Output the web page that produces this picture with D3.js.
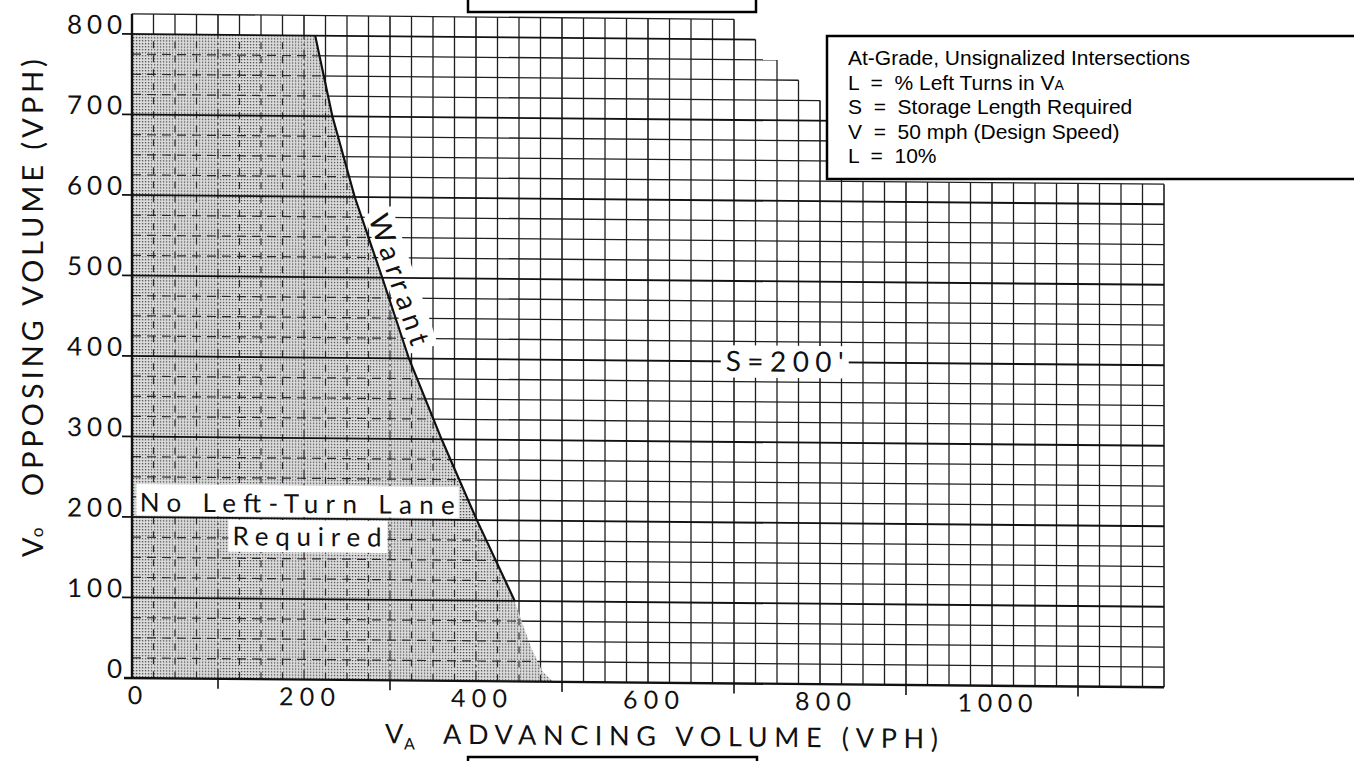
<!DOCTYPE html>
<html><head><meta charset="utf-8">
<script src="https://cdn.jsdelivr.net/npm/d3@7"></script>
<style>html,body{margin:0;padding:0;background:#fff;}svg{display:block;}</style>
</head><body>
<svg id="c" width="1354" height="761"></svg>
<script>
// ---------------- data ----------------
const xTickLabels = [0, 200, 400, 600, 800, 1000];
const xTickMarks  = [100, 300, 500, 700, 900, 1100];
const yTickLabels = [0, 100, 200, 300, 400, 500, 600, 700, 800];
const warrantVo = [800, 700, 600, 500, 400, 300, 200, 100];
const warrantVa = [213, 233, 259, 291, 322, 360, 401, 445];
const shadeTailVa = [453, 465, 478, 490];
const shadeTailVo = [75, 40, 12, 0];
const gridStepVa  = [0, 700, 725, 750, 775, 800, 825, 1200];
const gridStepTop = [825, 800, 775, 750, 725, 700, 625];
const gridStep = 25;
const legendLines = [
  ["At-Grade, Unsignalized Intersections", ""],
  ["L \u00A0= \u00A0% Left Turns in V", "A"],
  ["S \u00A0= \u00A0Storage Length Required", ""],
  ["V \u00A0= \u00A050 mph (Design Speed)", ""],
  ["L \u00A0= \u00A010%", ""]
];
const xTitleMain = "ADVANCING VOLUME (VPH)";
const yTitleMain = "OPPOSING VOLUME (VPH)";
const regionLabel1 = "No Left-Turn Lane";
const regionLabel2 = "Required";
const warrantLabel = "Warrant";
const storageLabel = "S=200'";

// ---------------- setup ----------------
const svg = d3.select("#c");
const x = d3.scaleLinear().domain([0, 1200]).range([132, 1164]);
const y = d3.scaleLinear().domain([0, 800]).range([678, 34]);
const skew = 0.009;
const FONT = "Lato, 'DejaVu Sans', sans-serif";

const defs = svg.append("defs");
const pat = defs.append("pattern").attr("id", "stip")
  .attr("patternUnits", "userSpaceOnUse").attr("width", 3).attr("height", 3);
pat.append("rect").attr("width", 3).attr("height", 3).attr("fill", "#dedede");
pat.append("rect").attr("x", 1).attr("y", 1).attr("width", 1.3).attr("height", 1.3).attr("fill", "#333");

const g = svg.append("g")
  .attr("transform", `matrix(1,${skew},0,1,0,${-skew * x(0)})`);

// shaded region polygon (data space)
const shadePts = [[0, 0], [0, 800]]
  .concat(warrantVa.map((v, i) => [v, warrantVo[i]]))
  .concat(shadeTailVa.map((v, i) => [v, shadeTailVo[i]]));
const shadePath = d3.line().x(d => x(d[0])).y(d => y(d[1]))(shadePts) + "Z";
defs.append("clipPath").attr("id", "shadeClip").append("path").attr("d", shadePath);

// grid helpers
function cellTop(v) {
  for (let i = 0; i < gridStepTop.length; i++) {
    if (v >= gridStepVa[i] && v < gridStepVa[i + 1]) return gridStepTop[i];
  }
  return 0;
}
function hEnd(L) {
  let e = 0;
  for (let i = 0; i < gridStepTop.length; i++) if (gridStepTop[i] >= L) e = gridStepVa[i + 1];
  return e;
}
const levels = d3.range(0, 826, gridStep);
const verts = d3.range(0, 1201, gridStep);
function vTop(v) {
  const a = v > 0 ? cellTop(v - gridStep) : 0;
  const b = v < 1200 ? cellTop(v) : 0;
  return Math.max(a, b);
}
const minorLevels = levels.filter(L => L > 0 && L % 100 !== 0);
const majorLevels = levels.filter(L => L > 0 && L % 100 === 0);
const innerVerts = verts.filter(v => v > 0);

// 1. solid grid
const gridG = g.append("g");
gridG.selectAll(".hm").data(minorLevels).join("line")
  .attr("x1", x(0)).attr("x2", L => x(hEnd(L)))
  .attr("y1", L => y(L)).attr("y2", L => y(L))
  .attr("stroke", "#1e1e1e").attr("stroke-width", 1.3);
gridG.selectAll(".vv").data(innerVerts).join("line")
  .attr("x1", v => x(v)).attr("x2", v => x(v))
  .attr("y1", y(0)).attr("y2", v => y(vTop(v)))
  .attr("stroke", "#1e1e1e").attr("stroke-width", v => v % 100 === 0 ? 1.6 : 1.3);

// 2. shading
g.append("path").attr("d", shadePath).attr("fill", "url(#stip)");

// 3. dashed grid inside shade
const dashG = g.append("g").attr("clip-path", "url(#shadeClip)");
dashG.selectAll(".hd").data(minorLevels).join("line")
  .attr("x1", x(0)).attr("x2", L => x(hEnd(L)))
  .attr("y1", L => y(L)).attr("y2", L => y(L))
  .attr("stroke", "#2a2a2a").attr("stroke-width", 1.2).attr("stroke-dasharray", "9,6");
dashG.selectAll(".vd").data(innerVerts).join("line")
  .attr("x1", v => x(v)).attr("x2", v => x(v))
  .attr("y1", y(0)).attr("y2", v => y(vTop(v)))
  .attr("stroke", "#2a2a2a").attr("stroke-width", 1.2)
  .attr("stroke-dasharray", v => v % 100 === 0 ? "10,4,2,4" : "7,7");

// Warrant label geometry
const vaAt = d3.scaleLinear().domain(warrantVo.slice().reverse()).range(warrantVa.slice().reverse());
const p1 = [x(vaAt(572)), y(572)];
const p2 = [x(vaAt(412)), y(412)];
const ang = Math.atan2(p2[1] - p1[1], p2[0] - p1[0]) * 180 / Math.PI;
const wLen = Math.hypot(p2[0] - p1[0], p2[1] - p1[1]);
const wG = g.append("g").attr("transform", `translate(${p1[0]},${p1[1]}) rotate(${ang})`);
wG.append("rect").attr("x", -4).attr("y", -32).attr("width", wLen + 10).attr("height", 29).attr("fill", "#fff");

// 4. major horizontal lines (with tick stubs to the left)
g.selectAll(".hM").data(majorLevels).join("line")
  .attr("x1", x(0) - 10).attr("x2", L => x(hEnd(L)))
  .attr("y1", L => y(L)).attr("y2", L => y(L))
  .attr("stroke", "#111").attr("stroke-width", 1.9);

// 5. axes
g.append("line").attr("x1", x(0)).attr("x2", x(0)).attr("y1", y(0) + 1).attr("y2", y(825))
  .attr("stroke", "#111").attr("stroke-width", 2.4);
g.append("line").attr("x1", x(0) - 8).attr("x2", x(1200)).attr("y1", y(0)).attr("y2", y(0))
  .attr("stroke", "#111").attr("stroke-width", 2.4);
g.selectAll(".xt").data(xTickMarks).join("line")
  .attr("x1", d => x(d)).attr("x2", d => x(d)).attr("y1", y(0)).attr("y2", y(0) + 10)
  .attr("stroke", "#111").attr("stroke-width", 1.6);

// 6. warrant line
g.append("path")
  .attr("d", d3.line().x(d => x(d[0])).y(d => y(d[1]))(warrantVa.map((v, i) => [v, warrantVo[i]])))
  .attr("fill", "none").attr("stroke", "#111").attr("stroke-width", 2.2);

wG.append("text").attr("x", 0).attr("y", -6)
  .attr("font-family", FONT).attr("font-size", 28).attr("fill", "#111")
  .attr("textLength", wLen).attr("lengthAdjust", "spacing")
  .text(warrantLabel);

// 7. region labels
g.append("rect").attr("x", x(5)).attr("y", y(241)).attr("width", x(380) - x(5)).attr("height", y(202) - y(241)).attr("fill", "#fff");
g.append("rect").attr("x", x(112)).attr("y", y(198)).attr("width", x(297) - x(112)).attr("height", y(158) - y(198)).attr("fill", "#fff");
g.append("text").attr("x", x(9)).attr("y", y(207))
  .attr("font-family", FONT).attr("font-size", 26).attr("fill", "#111")
  .attr("textLength", 315).attr("lengthAdjust", "spacing").text(regionLabel1);
g.append("text").attr("x", x(117)).attr("y", y(166))
  .attr("font-family", FONT).attr("font-size", 26).attr("fill", "#111")
  .attr("textLength", 149).attr("lengthAdjust", "spacing").text(regionLabel2);

// S = 200'
g.append("rect").attr("x", x(759) - 64).attr("y", y(420)).attr("width", 128).attr("height", y(380) - y(420)).attr("fill", "#fff");
g.append("text").attr("x", x(759)).attr("y", y(388)).attr("text-anchor", "middle")
  .attr("font-family", FONT).attr("font-size", 28).attr("fill", "#111")
  .attr("textLength", 118).attr("lengthAdjust", "spacing").text(storageLabel);

// 8. tick labels
g.selectAll(".yl").data(yTickLabels).join("text")
  .attr("x", x(0) - 10).attr("y", d => y(d)).attr("text-anchor", "end")
  .attr("font-family", FONT).attr("font-size", 26).attr("fill", "#111")
  .each(function (d) { const s = String(d); if (s.length > 1) d3.select(this).attr("textLength", s.length * 18.3).attr("lengthAdjust", "spacing"); })
  .text(d => d);
g.selectAll(".xl").data(xTickLabels).join("text")
  .attr("x", d => x(d) + 3).attr("y", y(0) + 26).attr("text-anchor", "middle")
  .attr("font-family", FONT).attr("font-size", 25).attr("fill", "#111")
  .each(function (d) { const s = String(d); if (s.length > 1) d3.select(this).attr("textLength", s.length * 19 - 1).attr("lengthAdjust", "spacing"); })
  .text(d => d);

// 9. axis titles
const xt = g.append("g").attr("transform", `translate(385,${y(0) + 63})`);
xt.append("text").attr("x", 0).attr("y", 0).attr("font-family", FONT).attr("font-size", 27).attr("fill", "#111").text("V");
xt.append("text").attr("x", 19).attr("y", 6).attr("font-family", FONT).attr("font-size", 16).attr("fill", "#111").text("A");
xt.append("text").attr("x", 58).attr("y", 0).attr("font-family", FONT).attr("font-size", 27).attr("fill", "#111")
  .attr("textLength", 495).attr("lengthAdjust", "spacing").text(xTitleMain);

const yt = g.append("g").attr("transform", `translate(43,558) rotate(-90)`);
yt.append("text").attr("x", 0).attr("y", 0).attr("font-family", FONT).attr("font-size", 29).attr("fill", "#111").text("V");
yt.append("text").attr("x", 20).attr("y", 0).attr("font-family", FONT).attr("font-size", 17).attr("fill", "#111").text("o");
yt.append("text").attr("x", 61).attr("y", 0).attr("font-family", FONT).attr("font-size", 29).attr("fill", "#111")
  .attr("textLength", 437).attr("lengthAdjust", "spacing").text(yTitleMain);

// ---------------- boxes (unskewed) ----------------
svg.append("rect").attr("x", 468).attr("y", -3).attr("width", 288).attr("height", 15)
  .attr("fill", "#fff").attr("stroke", "#000").attr("stroke-width", 2.5);
svg.append("rect").attr("x", 468).attr("y", 757).attr("width", 289).attr("height", 10)
  .attr("fill", "#fff").attr("stroke", "#000").attr("stroke-width", 2.5);

const lg = svg.append("g");
lg.append("rect").attr("x", 827).attr("y", 36).attr("width", 540).attr("height", 143)
  .attr("fill", "#fff").attr("stroke", "#000").attr("stroke-width", 2.5);
const lt = lg.selectAll(".lt").data(legendLines).join("text")
  .attr("x", 848).attr("y", (d, i) => 65 + i * 24.5)
  .attr("font-family", "'Liberation Sans', Arial, sans-serif").attr("font-size", 21).attr("fill", "#000");
lt.append("tspan").text(d => d[0]);
lt.append("tspan").attr("font-size", 14).text(d => d[1]);
</script>
</body></html>
